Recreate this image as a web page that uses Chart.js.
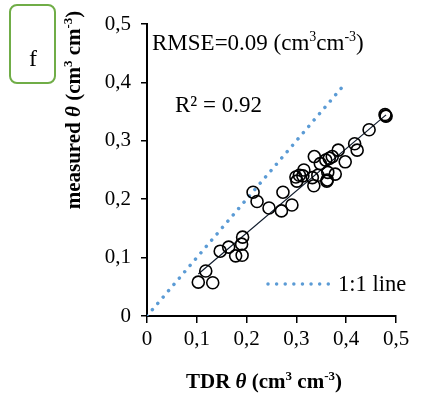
<!DOCTYPE html>
<html>
<head>
<meta charset="utf-8">
<script src="https://cdn.jsdelivr.net/npm/chart.js@4.4.1/dist/chart.umd.min.js"></script>
<style>
  html, body { margin: 0; padding: 0; background: #ffffff; }
  #wrap { width: 427px; height: 414px; }
</style>
</head>
<body>
<div id="wrap"><canvas id="c" width="427" height="414"></canvas></div>
<script>
// TDR-measured water content (x) against measured water content (y), cm3 cm-3
const tdrTheta = [0.103, 0.118, 0.132, 0.147, 0.164, 0.178, 0.191, 0.190, 0.192, 0.213,
  0.221, 0.245, 0.270, 0.273, 0.291, 0.299, 0.301, 0.306, 0.313, 0.315,
  0.332, 0.335, 0.336, 0.343, 0.348, 0.359, 0.361, 0.362, 0.363, 0.366,
  0.372, 0.378, 0.384, 0.398, 0.417, 0.422, 0.446, 0.478, 0.480, 0.479];
const measuredTheta = [0.058, 0.077, 0.057, 0.111, 0.118, 0.103, 0.104, 0.123, 0.135, 0.212,
  0.196, 0.185, 0.180, 0.212, 0.190, 0.238, 0.231, 0.241, 0.240, 0.250,
  0.237, 0.223, 0.273, 0.241, 0.261, 0.267, 0.231, 0.233, 0.246, 0.270,
  0.273, 0.243, 0.284, 0.264, 0.295, 0.284, 0.319, 0.345, 0.342, 0.343];

// 1:1 reference line end points
const oneToOneX = [0, 0.4];
const oneToOneY = [0, 0.4];

// tick labels with decimal comma
const tickLabels = ['0', '0,1', '0,2', '0,3', '0,4', '0,5'];

// fit statistics shown on the plot
const rmseText = 'RMSE=0.09';
const r2Text = 'R\u00B2 = 0.92';

// least-squares trend line through the scatter
function linearFit(xs, ys) {
  const n = xs.length;
  let sx = 0, sy = 0, sxx = 0, sxy = 0;
  for (let i = 0; i < n; i++) { sx += xs[i]; sy += ys[i]; sxx += xs[i] * xs[i]; sxy += xs[i] * ys[i]; }
  const slope = (n * sxy - sx * sy) / (n * sxx - sx * sx);
  return { slope, intercept: (sy - slope * sx) / n };
}
const fit = linearFit(tdrTheta, measuredTheta);
const xMin = Math.min(...tdrTheta), xMax = Math.max(...tdrTheta);
const trendPts = [xMin, xMax].map(x => ({ x, y: fit.slope * x + fit.intercept }));

const scatterPts = tdrTheta.map((x, i) => ({ x, y: measuredTheta[i] }));
const onePts = oneToOneX.map((x, i) => ({ x, y: oneToOneY[i] }));

const SERIF = '"Liberation Serif", "Times New Roman", serif';
const BLUE = '#5B9BD5';

// draw a sequence of text runs (font, vertical offset) starting at x
function drawRuns(ctx, runs, x, y, align) {
  let total = 0;
  runs.forEach(r => { ctx.font = r.font; r.w = ctx.measureText(r.t).width; total += r.w; });
  let cx = align === 'center' ? x - total / 2 : x;
  runs.forEach(r => {
    ctx.font = r.font;
    ctx.textAlign = 'left';
    ctx.fillText(r.t, cx, y + (r.dy || 0));
    cx += r.w;
  });
}

const annotations = {
  id: 'annotations',
  afterDraw(chart) {
    const ctx = chart.ctx;
    ctx.save();
    ctx.fillStyle = '#000';
    ctx.textBaseline = 'alphabetic';

    // panel letter box
    ctx.strokeStyle = '#70AD47';
    ctx.lineWidth = 2;
    ctx.beginPath();
    ctx.roundRect(10, 5, 45, 78, 7);
    ctx.stroke();
    ctx.font = '24px ' + SERIF;
    ctx.textAlign = 'center';
    ctx.fillText('f', 33, 66);

    const n23 = '23px ' + SERIF, s14 = '14px ' + SERIF;
    // RMSE
    drawRuns(ctx, [
      { t: rmseText + ' (cm', font: n23 },
      { t: '3', font: s14, dy: -9 },
      { t: 'cm', font: n23 },
      { t: '-3', font: s14, dy: -9 },
      { t: ')', font: n23 }
    ], 152, 50, 'left');

    // R squared
    ctx.font = '23px ' + SERIF;
    ctx.textAlign = 'left';
    ctx.fillText(r2Text, 175, 112);

    // legend for the 1:1 line
    ctx.strokeStyle = BLUE;
    ctx.lineWidth = 3.5;
    ctx.lineCap = 'round';
    ctx.setLineDash([0.01, 8.6]);
    ctx.beginPath();
    ctx.moveTo(268, 284);
    ctx.lineTo(329, 284);
    ctx.stroke();
    ctx.setLineDash([]);
    ctx.font = '22.5px ' + SERIF;
    ctx.fillText('1:1 line', 338, 291);

    const b21 = 'bold 21px ' + SERIF, bi21 = 'italic bold 21px ' + SERIF, b13 = 'bold 13px ' + SERIF;
    // x axis title
    drawRuns(ctx, [
      { t: 'TDR ', font: b21 },
      { t: '\u03B8', font: bi21 },
      { t: ' (cm', font: b21 },
      { t: '3', font: b13, dy: -8 },
      { t: ' cm', font: b21 },
      { t: '-3', font: b13, dy: -8 },
      { t: ')', font: b21 }
    ], 264, 388, 'center');

    // y axis title
    ctx.translate(80, 110);
    ctx.rotate(-Math.PI / 2);
    drawRuns(ctx, [
      { t: 'measured ', font: b21 },
      { t: '\u03B8', font: bi21 },
      { t: ' (cm', font: b21 },
      { t: '3', font: b13, dy: -8 },
      { t: ' cm', font: b21 },
      { t: '-3', font: b13, dy: -8 },
      { t: ')', font: b21 }
    ], 0, 0, 'center');
    ctx.restore();
  }
};

const tickFont = { family: SERIF, size: 21 };

new Chart(document.getElementById('c'), {
  type: 'scatter',
  data: {
    datasets: [
      {
        label: '1:1 line',
        data: onePts,
        showLine: true,
        borderColor: BLUE,
        borderWidth: 3.5,
        borderCapStyle: 'round',
        borderDash: [0.01, 8.3],
        pointRadius: 0,
        fill: false,
        order: 3
      },
      {
        label: 'trend',
        data: trendPts,
        showLine: true,
        borderColor: '#0e1a2b',
        borderWidth: 1.2,
        pointRadius: 0,
        fill: false,
        order: 2
      },
      {
        label: 'measured',
        data: scatterPts,
        pointStyle: 'circle',
        pointRadius: 6,
        pointBorderWidth: 1.6,
        pointBorderColor: '#000',
        pointBackgroundColor: 'rgba(0,0,0,0)',
        order: 1
      }
    ]
  },
  options: {
    responsive: false,
    animation: false,
    devicePixelRatio: 1,
    layout: { padding: { left: 0, top: 24, right: 31, bottom: 0 } },
    plugins: { legend: { display: false }, tooltip: { enabled: false } },
    scales: {
      x: {
        type: 'linear',
        min: 0, max: 0.5,
        afterFit(s) { s.height = 98; },
        border: { display: true, color: '#000', width: 2 },
        grid: { display: true, drawOnChartArea: false, drawTicks: true, tickLength: 7, color: '#000', lineWidth: 1.5 },
        ticks: {
          stepSize: 0.1,
          color: '#000',
          font: tickFont,
          padding: 4,
          maxRotation: 0,
          callback: (v, i) => tickLabels[i]
        }
      },
      y: {
        type: 'linear',
        min: 0, max: 0.5,
        afterFit(s) { s.width = 147; },
        border: { display: true, color: '#000', width: 2 },
        grid: { display: true, drawOnChartArea: false, drawTicks: true, tickLength: 6, color: '#000', lineWidth: 1.5 },
        ticks: {
          stepSize: 0.1,
          color: '#000',
          font: tickFont,
          padding: 10,
          callback: (v, i) => tickLabels[i]
        }
      }
    }
  },
  plugins: [annotations]
});
</script>
</body>
</html>
